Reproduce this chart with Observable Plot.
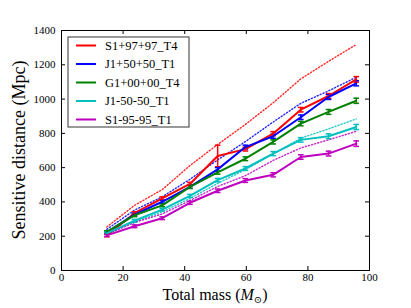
<!DOCTYPE html>
<html>
<head>
<meta charset="utf-8">
<script src="https://cdn.jsdelivr.net/npm/d3@7"></script>
<script src="https://cdn.jsdelivr.net/npm/@observablehq/plot@0.6"></script>
<style>
  html, body { margin: 0; padding: 0; background: #fff; }
  #chart { width: 411px; height: 308px; }
</style>
</head>
<body>
<div id="chart"></div>
<script>
// ---- data ----
const masses = [14.7, 23.7, 32.7, 41.7, 50.7, 59.7, 68.7, 77.7, 86.7, 95.7];
const seriesNames = ["S1+97+97_T4", "J1+50+50_T1", "G1+00+00_T4", "J1-50-50_T1", "S1-95-95_T1"];
const seriesColors = ["#ff0000", "#0000ff", "#008000", "#00bfbf", "#bf00bf"];

const s1p97 = [205, 334, 421, 505, 668, 708, 798, 938, 1018, 1115];
const j1p50 = [223, 326, 401, 488, 590, 720, 783, 894, 1012, 1092];
const g1p00 = [225, 322, 380, 488, 572, 652, 750, 857, 925, 990];
const j1m50 = [217, 290, 355, 435, 527, 595, 682, 762, 783, 837];
const s1m95 = [205, 258, 305, 395, 465, 525, 558, 662, 682, 740];

const s1p97Err = [8, 8, 9, 9, 63, 11, 12, 13, 14, 16];
const j1p50Err = [7, 8, 8, 9, 10, 11, 12, 13, 14, 15];
const g1p00Err = [7, 8, 8, 9, 10, 11, 12, 13, 14, 15];
const j1m50Err = [7, 8, 8, 9, 10, 11, 12, 13, 14, 15];
const s1m95Err = [7, 8, 8, 9, 10, 11, 12, 13, 14, 16];

// dotted reference curves
const s1p97Dot = [254, 380, 472, 612, 735, 852, 978, 1118, 1220, 1318];
const j1p50Dot = [240, 352, 430, 532, 645, 752, 866, 975, 1048, 1127];
const j1m50Dot = [214, 282, 342, 420, 508, 588, 680, 772, 826, 884];
const s1m95Dot = [210, 280, 330, 408, 490, 553, 642, 715, 762, 812];

const xTicks = [0, 20, 40, 60, 80, 100];
const yTicks = [0, 200, 400, 600, 800, 1000, 1200, 1400];

// ---- tidy tables ----
const solidSets = [s1p97, j1p50, g1p00, j1m50, s1m95];
const errSets = [s1p97Err, j1p50Err, g1p00Err, j1m50Err, s1m95Err];
const solid = [];
solidSets.forEach((vals, k) => vals.forEach((v, i) => solid.push({
  series: seriesNames[k], mass: masses[i], dist: v, lo: v - errSets[k][i], hi: v + errSets[k][i]
})));
const dotSets = [[0, s1p97Dot], [1, j1p50Dot], [3, j1m50Dot], [4, s1m95Dot]];
const dotted = [];
dotSets.forEach(([k, vals]) => vals.forEach((v, i) => dotted.push({series: seriesNames[k], mass: masses[i], dist: v})));
const caps = solid.flatMap(d => [{series: d.series, mass: d.mass, dist: d.lo}, {series: d.series, mass: d.mass, dist: d.hi}]);

const capSymbol = { draw(ctx, size) { const r = Math.sqrt(size / Math.PI); ctx.moveTo(-r, 0); ctx.lineTo(r, 0); } };

const W = 411, H = 308, mL = 61, mR = 42, mT = 30, mB = 38;
const fw = W - mL - mR, fh = H - mT - mB;
const font = "'Liberation Serif', 'DejaVu Serif', serif";

const plot = Plot.plot({
  width: W, height: H,
  marginLeft: mL, marginRight: mR, marginTop: mT, marginBottom: mB,
  style: { fontFamily: font, fontSize: "11px", color: "#000", background: "#fff" },
  x: { domain: [0, 100], label: null },
  y: { domain: [0, 1400], label: null },
  color: { domain: seriesNames, range: seriesColors },
  marks: [
    Plot.line(dotted, { x: "mass", y: "dist", z: "series", stroke: "series", strokeWidth: 1.4, strokeDasharray: "1.2,2", strokeOpacity: 0.85 }),
    Plot.ruleX(solid, { x: "mass", y1: "lo", y2: "hi", stroke: "series", strokeWidth: 1.5 }),
    Plot.dot(caps, { x: "mass", y: "dist", stroke: "series", symbol: capSymbol, r: 2.8, strokeWidth: 1.5 }),
    Plot.line(solid, { x: "mass", y: "dist", z: "series", stroke: "series", strokeWidth: 2 }),
    // inward ticks on all four sides
    Plot.tickX(xTicks, { x: d => d, insetTop: fh - 4, stroke: "#000" }),
    Plot.tickX(xTicks, { x: d => d, insetBottom: fh - 4, stroke: "#000" }),
    Plot.tickY(yTicks, { y: d => d, insetRight: fw - 4, stroke: "#000" }),
    Plot.tickY(yTicks, { y: d => d, insetLeft: fw - 4, stroke: "#000" }),
    Plot.axisX(xTicks, { tickSize: 0, tickPadding: 3, fontSize: 11, tickFormat: d3.format("d") }),
    Plot.axisY(yTicks, { tickSize: 0, tickPadding: 6, fontSize: 11, tickFormat: d3.format("d") }),
    Plot.frame({ stroke: "#000", strokeWidth: 1 })
  ]
});
document.getElementById("chart").appendChild(plot);

// ---- axis titles and legend ----
const svg = d3.select(plot);
const xt = svg.append("text")
  .attr("x", mL + fw / 2).attr("y", H - 8)
  .attr("text-anchor", "middle")
  .style("font-family", font).style("font-size", "16px").attr("fill", "#000");
xt.append("tspan").text("Total mass (");
xt.append("tspan").attr("font-style", "italic").text("M");
xt.append("tspan").attr("font-size", "10px").attr("dy", 3).text("⊙");
xt.append("tspan").attr("dy", -3).text(")");

svg.append("text")
  .attr("transform", `translate(${25},${mT + fh / 2}) rotate(-90)`)
  .attr("text-anchor", "middle")
  .style("font-family", font).style("font-size", "18px").attr("fill", "#000")
  .text("Sensitive distance (Mpc)");

const lg = svg.append("g");
lg.append("rect").attr("x", 68).attr("y", 37).attr("width", 121).attr("height", 90)
  .attr("fill", "#fff").attr("stroke", "#555").attr("stroke-width", 1.2);
seriesNames.forEach((name, i) => {
  const y = 45.5 + i * 18.5;
  lg.append("line").attr("x1", 76).attr("x2", 96).attr("y1", y).attr("y2", y)
    .attr("stroke", seriesColors[i]).attr("stroke-width", 2);
  lg.append("text").attr("x", 105).attr("y", y).attr("dy", "0.35em")
    .attr("text-anchor", "start")
    .style("font-family", font).style("font-size", "12.5px").attr("fill", "#000").text(name);
});
</script>
</body>
</html>
